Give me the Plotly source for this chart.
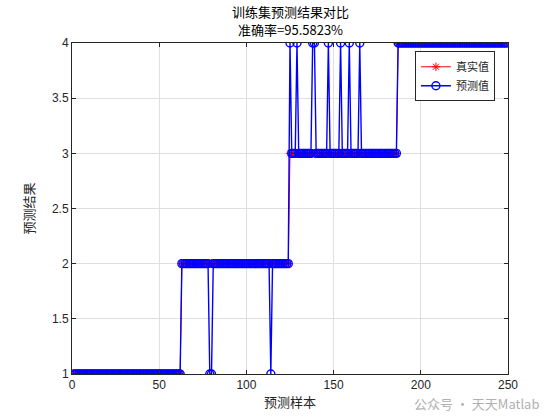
import plotly.graph_objects as go

# ---- data ----
class_labels = [1, 2, 3, 4]          # true class of each block of samples
class_counts = [62, 62, 62, 63]      # number of consecutive samples per class
wrong_samples = [79, 80, 114, 125, 129, 138, 139, 147, 154, 159, 165]
wrong_predictions = [1, 1, 1, 4, 4, 4, 4, 4, 4, 4, 4]
x_ticks = [0, 50, 100, 150, 200, 250]
y_ticks = [1, 1.5, 2, 2.5, 3, 3.5, 4]
title_line1 = "训练集预测结果对比"
accuracy_text = "95.5823%"

true_values = []
for lab, cnt in zip(class_labels, class_counts):
    true_values += [lab] * cnt
sample_index = list(range(1, len(true_values) + 1))
pred_values = list(true_values)
for s, p in zip(wrong_samples, wrong_predictions):
    pred_values[s - 1] = p

cjk = "Noto Sans CJK SC"
latin = "Liberation Sans, Arial, sans-serif"

fig = go.Figure()
fig.add_trace(go.Scatter(
    x=sample_index, y=true_values, mode="lines+markers", name="真实值",
    line=dict(color="red", width=1),
    marker=dict(symbol="asterisk-open", size=7, color="red", line=dict(color="red", width=1)),
))
fig.add_trace(go.Scatter(
    x=sample_index, y=pred_values, mode="lines+markers", name="预测值",
    line=dict(color="blue", width=1.4),
    marker=dict(symbol="circle-open", size=8, color="blue", line=dict(color="blue", width=1.4)),
))

axis_common = dict(
    showgrid=True, gridcolor="#dfdfdf", gridwidth=1,
    showline=True, linecolor="#262626", linewidth=1, mirror="ticks",
    ticks="inside", ticklen=4, tickcolor="#262626",
    zeroline=False,
    tickfont=dict(family=latin, size=12, color="#262626"),
)

fig.update_layout(
    width=560, height=420,
    margin=dict(l=72, r=52, t=43, b=46),
    paper_bgcolor="white", plot_bgcolor="white",
    xaxis=dict(axis_common, range=[0, 250], tickvals=x_ticks,
               title=dict(text="预测样本", standoff=6,
                          font=dict(family=cjk, size=13, color="#262626"))),
    yaxis=dict(axis_common, range=[1, 4], tickvals=y_ticks,
               ticktext=[f"{v:g}" for v in y_ticks],
               title=dict(text="预测结果", standoff=14,
                          font=dict(family=cjk, size=13, color="#262626"))),
    legend=dict(
        x=0.97, y=0.975, xanchor="right", yanchor="top",
        bgcolor="white", bordercolor="#262626", borderwidth=1,
        font=dict(family=cjk, size=11, color="#262626"),
        tracegroupgap=0, itemwidth=30,
    ),
    showlegend=True,
)

# two-line title
fig.add_annotation(text=title_line1, xref="paper", yref="paper", x=0.5, y=1.094,
                   xanchor="center", yanchor="middle", showarrow=False,
                   font=dict(family=cjk, size=13, color="black"))
fig.add_annotation(text="准确率=" + accuracy_text, xref="paper", yref="paper", x=0.5, y=1.040,
                   xanchor="center", yanchor="middle", showarrow=False,
                   font=dict(family=cjk + ", " + latin, size=13, color="black"))

# watermark
fig.add_annotation(
    text="公众号 · 天天Matlab", xref="paper", yref="paper",
    x=0.78, y=-0.088, xanchor="left", yanchor="middle", showarrow=False,
    font=dict(family=cjk, size=13, color="#b0b0b0"),
)

fig.write_html("out.html", config={"displayModeBar": False},
               post_script="document.body.style.margin='0';document.body.style.padding='0';")
